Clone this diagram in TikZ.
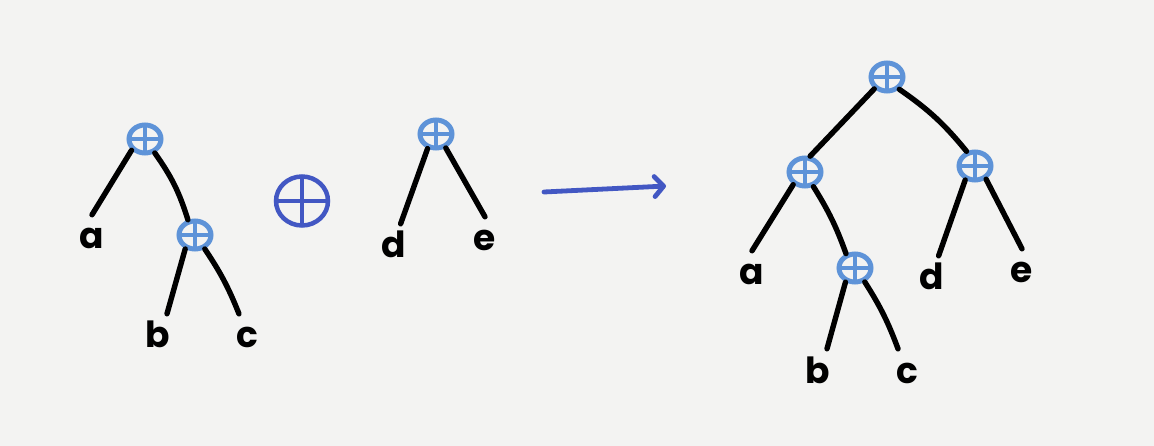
\documentclass[tikz,border=0pt]{standalone}
\usepackage{fontspec}
\newfontfamily\leaffamily{Poppins}
\usetikzlibrary{shapes.geometric,arrows.meta}
\definecolor{bgc}{HTML}{F3F3F2}
\definecolor{opc}{HTML}{5E93D8}
\definecolor{bigc}{HTML}{4257C3}
\tikzset{
  opnode/.style={ellipse, draw=opc, line width=5pt, minimum width=32pt, minimum height=28pt, inner sep=0pt,
    path picture={\draw[opc, line width=4pt] (path picture bounding box.west) -- (path picture bounding box.east)
      (path picture bounding box.north) -- (path picture bounding box.south);}},
  bigop/.style={ellipse, draw=bigc, line width=4.5pt, minimum width=52pt, minimum height=49pt, inner sep=0pt,
    path picture={\draw[bigc, line width=4pt] (path picture bounding box.west) -- (path picture bounding box.east)
      (path picture bounding box.north) -- (path picture bounding box.south);}},
  leaf/.style={font=\leaffamily\bfseries\fontsize{36}{36}\selectfont, inner xsep=2pt, inner ysep=15pt,
    text height=19pt, text depth=0pt},
  edge/.style={draw=black, line width=5.4pt, line cap=round},
  arrowline/.style={draw=bigc, line width=4.8pt, line cap=round,
    -{Straight Barb[length=9pt,width=20pt,line width=4.8pt,line cap=round,line join=round]}},
}
\begin{document}
\begin{tikzpicture}[x=1pt,y=-1pt]
\useasboundingbox (0,0) rectangle (1154,446);
\fill[bgc] (0,0) rectangle (1154,446);

% left tree
\node[opnode] (L1) at (145,139) {};
\node[opnode] (L2) at (195,235) {};
\node[leaf] (La) at (92,239.5) {a};
\node[leaf] (Lb) at (158,338.5) {b};
\node[leaf] (Lc) at (247,338.5) {c};
\draw[edge] (L1.220) -- (La.north);
\draw[edge] (L1.305) to[bend left=9] (L2.115);
\draw[edge] (L2.235) -- (Lb.70);
\draw[edge] (L2.305) to[bend left=6] (Lc.108);

% big operator
\node[bigop] (Big) at (302,201) {};

% middle tree
\node[opnode] (M1) at (436,134) {};
\node[leaf] (Md) at (394,248.5) {d};
\node[leaf] (Me) at (485,241.5) {e};
\draw[edge] (M1.240) -- (Md.75);
\draw[edge] (M1.305) -- (Me.north);

% arrow
\coordinate (As) at (544,192);
\coordinate (Ae) at (666,186);
\draw[arrowline] (As) -- (Ae);

% right tree
\node[opnode] (R1) at (887,77) {};
\node[opnode] (R2) at (805,172) {};
\node[opnode] (R3) at (975,166) {};
\node[opnode] (R4) at (855,268) {};
\node[leaf] (Ra) at (752,275.5) {a};
\node[leaf] (Rb) at (818,373.5) {b};
\node[leaf] (Rc) at (907,373.5) {c};
\node[leaf] (Rd) at (932,280.5) {d};
\node[leaf] (Re) at (1022,273.5) {e};
\draw[edge] (R1.223) -- (R2.72);
\draw[edge] (R1.315) to[bend left=8] (R3.120);
\draw[edge] (R2.227) -- (Ra.north);
\draw[edge] (R2.300) to[bend left=6] (R4.122);
\draw[edge] (R4.236) -- (Rb.70);
\draw[edge] (R4.305) to[bend left=6] (Rc.110);
\draw[edge] (R3.235) -- (Rd.75);
\draw[edge] (R3.310) -- (Re.north);
\end{tikzpicture}
\end{document}
